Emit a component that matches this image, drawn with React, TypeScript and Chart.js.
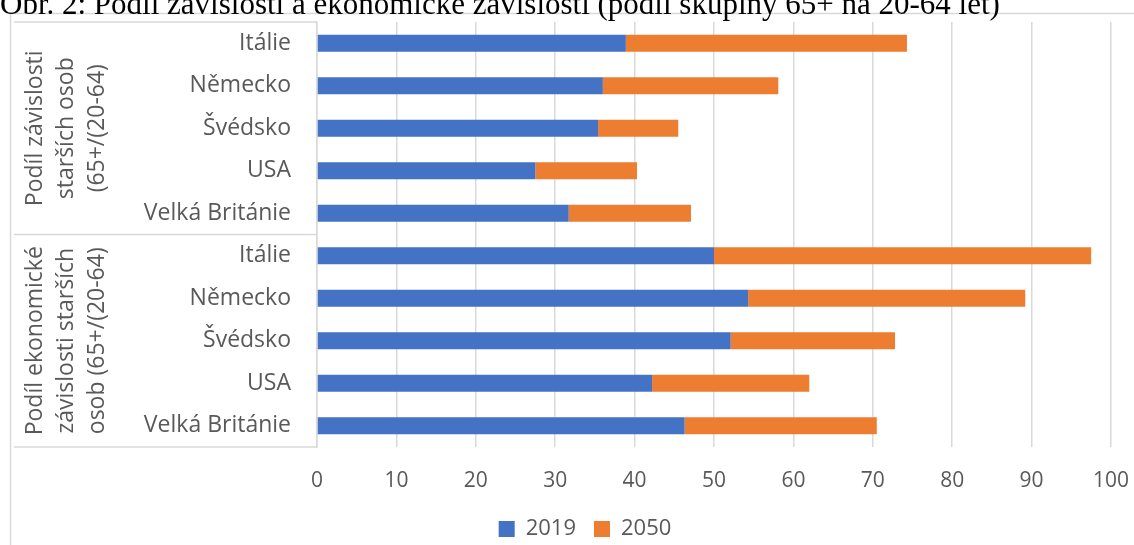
import React, { useEffect, useRef } from "react";
import { Chart, registerables } from "chart.js";

Chart.register(...registerables);

const titleText = "Obr. 2: Podíl závislosti a ekonomické závislosti (podíl skupiny 65+ na 20-64 let)";
const countries = ["Itálie", "Německo", "Švédsko", "USA", "Velká Británie"];
const groupLabels = [
  ["Podíl závislosti", "starších osob", "(65+/(20-64)"],
  ["Podíl ekonomické", "závislosti starších", "osob (65+/(20-64)"],
];
const categories = [...countries, ...countries];
const seriesNames = ["2019", "2050"];
const values2019 = [38.9, 36.0, 35.4, 27.5, 31.7, 50.0, 54.3, 52.1, 42.2, 46.3];
const values2050 = [35.4, 22.1, 10.1, 12.8, 15.4, 47.5, 34.9, 20.7, 19.8, 24.2];
const xMin = 0;
const xMax = 100;
const xStep = 10;

const FONT = "'Open Sans', 'Noto Sans', sans-serif";
const TEXT = "#595959";
const LINE = "#d9d9d9";

const groupAxisPlugin = {
  id: "groupAxis",
  afterDraw(chart: any) {
    const { ctx, chartArea } = chart;
    const y = chart.scales.y;
    const band = y.getPixelForValue(1) - y.getPixelForValue(0);
    ctx.save();
    ctx.strokeStyle = LINE;
    ctx.lineWidth = 1.5;
    // chart frame
    ctx.beginPath();
    ctx.moveTo(10.5, 560);
    ctx.lineTo(10.5, 13.5);
    ctx.lineTo(1150, 13.5);
    ctx.stroke();
    // group boundaries
    const per = countries.length;
    for (let g = 0; g <= groupLabels.length; g++) {
      const idx = g * per;
      const yy =
        y.getPixelForValue(Math.min(idx, categories.length - 1)) +
        (idx >= categories.length ? band / 2 : -band / 2);
      ctx.beginPath();
      ctx.moveTo(14, yy);
      ctx.lineTo(chartArea.left, yy);
      ctx.stroke();
    }
    // group texts
    ctx.fillStyle = TEXT;
    ctx.font = `23px ${FONT}`;
    ctx.textAlign = "center";
    ctx.textBaseline = "middle";
    const colX = [35, 66, 97];
    groupLabels.forEach((lines, g) => {
      const top = y.getPixelForValue(g * per) - band / 2;
      const bottom = y.getPixelForValue(g * per + per - 1) + band / 2;
      const cy = (top + bottom) / 2;
      lines.forEach((line, i) => {
        ctx.save();
        ctx.translate(colX[i], cy);
        ctx.rotate(-Math.PI / 2);
        ctx.fillText(line, 0, 0);
        ctx.restore();
      });
    });
    ctx.restore();
  },
};

export default function App() {
  const canvasRef = useRef<HTMLCanvasElement | null>(null);

  useEffect(() => {
    const canvas = canvasRef.current;
    if (!canvas) return;
    const chart = new Chart(canvas, {
      type: "bar",
      data: {
        labels: categories,
        datasets: [
          { label: seriesNames[0], data: values2019, backgroundColor: "#4472C4", borderWidth: 0 },
          { label: seriesNames[1], data: values2050, backgroundColor: "#ED7D31", borderWidth: 0 },
        ],
      },
      options: {
        indexAxis: "y",
        responsive: false,
        animation: false,
        devicePixelRatio: 1,
        layout: { padding: { top: 22, right: 23, left: 59, bottom: -5 } },
        datasets: { bar: { categoryPercentage: 1, barPercentage: 0.4 } },
        scales: {
          x: {
            stacked: true,
            min: xMin,
            max: xMax,
            ticks: { stepSize: xStep, color: TEXT, font: { family: FONT, size: 21 }, padding: 21 },
            grid: { color: LINE, lineWidth: 1.5, drawTicks: false },
            border: { display: false },
            afterFit: (s: any) => {
              s.height = 53;
              s.paddingLeft = 0;
              s.paddingRight = 0;
            },
          },
          y: {
            stacked: true,
            ticks: { color: TEXT, font: { family: FONT, size: 23 }, padding: 26, autoSkip: false },
            grid: { display: false, drawTicks: false },
            border: { display: true, color: LINE, width: 1.5 },
            afterFit: (s: any) => {
              s.width = 258;
              s.paddingTop = 0;
              s.paddingBottom = 0;
            },
          },
        },
        plugins: {
          legend: {
            position: "bottom",
            labels: {
              color: TEXT,
              font: { family: FONT, size: 22 },
              boxWidth: 16,
              boxHeight: 16,
              padding: 18,
            },
          },
          tooltip: { enabled: false },
          title: { display: false },
        },
      },
      plugins: [groupAxisPlugin],
    });
    return () => chart.destroy();
  }, []);

  return (
    <div
      style={{
        position: "fixed",
        left: 0,
        top: 0,
        width: 1134,
        height: 545,
        overflow: "hidden",
        background: "#fff",
      }}
    >
      <canvas
        ref={canvasRef}
        width={1134}
        height={545}
        style={{ position: "absolute", left: 0, top: 0, width: 1134, height: 545 }}
      />
      <div
        style={{
          position: "absolute",
          left: 0,
          top: -12,
          fontFamily: "'Liberation Serif', 'Times New Roman', serif",
          fontSize: 31,
          lineHeight: "31px",
          whiteSpace: "nowrap",
          color: "#000",
        }}
      >
        {titleText}
      </div>
    </div>
  );
}
